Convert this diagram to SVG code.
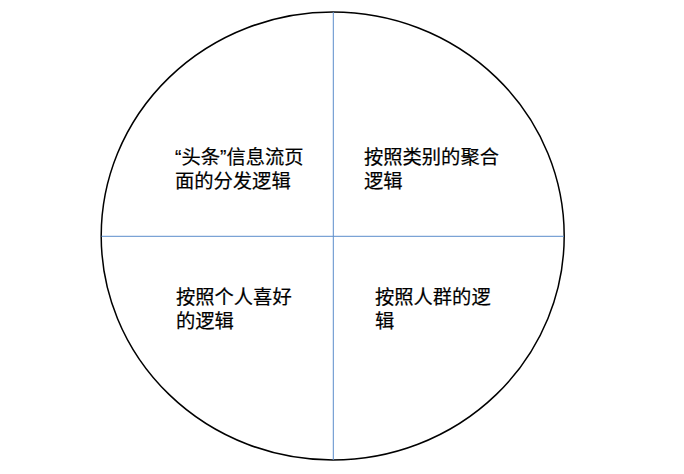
<svg xmlns="http://www.w3.org/2000/svg" width="684" height="474" viewBox="0 0 684 474">
<style>
.lbl{font-family:"Noto Sans CJK SC","Microsoft YaHei",sans-serif;font-size:19.3px;fill:#000;stroke:#000;stroke-width:0.2}
.q{font-family:"Liberation Sans",sans-serif}
.div{stroke:#5b8ccb;stroke-width:1;fill:none}
</style>
<rect width="684" height="474" fill="#fff"/>
<g id="circle">
<ellipse cx="332.7" cy="236" rx="231.5" ry="224" fill="none" stroke="#000" stroke-width="1.5"/>
</g>
<g id="connectors">
<line class="div" x1="333.3" y1="12" x2="333.3" y2="460"/>
<line class="div" x1="101.5" y1="236.3" x2="564" y2="236.3"/>
</g>
<g id="q1"><text class="lbl" x="175" y="164"><tspan class="q">“</tspan>头条<tspan class="q">”</tspan>信息流页<tspan x="175" dy="24">面的分发逻辑</tspan></text></g>
<g id="q2"><text class="lbl" x="364" y="164">按照类别的聚合<tspan x="364" dy="24">逻辑</tspan></text></g>
<g id="q3"><text class="lbl" x="176" y="304">按照个人喜好<tspan x="176" dy="24">的逻辑</tspan></text></g>
<g id="q4"><text class="lbl" x="375" y="304">按照人群的逻<tspan x="375" dy="24">辑</tspan></text></g>
</svg>
